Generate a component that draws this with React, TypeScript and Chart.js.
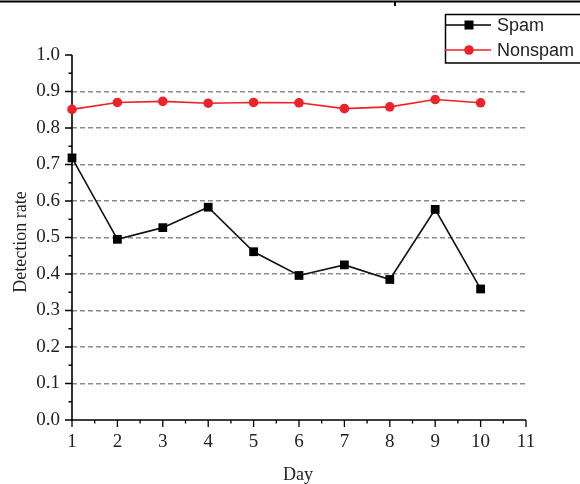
import React, { useEffect, useRef } from "react";
import { Chart, registerables } from "chart.js";

Chart.register(...registerables);

const days = [1, 2, 3, 4, 5, 6, 7, 8, 9, 10];
const spamRate = [0.718, 0.495, 0.527, 0.583, 0.461, 0.396, 0.425, 0.385, 0.577, 0.359];
const nonspamRate = [0.851, 0.87, 0.873, 0.868, 0.87, 0.869, 0.853, 0.858, 0.878, 0.869];
const xTickValues = [1, 2, 3, 4, 5, 6, 7, 8, 9, 10, 11];
const yTickValues = [0, 0.1, 0.2, 0.3, 0.4, 0.5, 0.6, 0.7, 0.8, 0.9, 1.0];
const seriesNames = ["Spam", "Nonspam"];
const xTitle = "Day";
const yTitle = "Detection rate";

const SERIF = "'Liberation Serif', 'Times New Roman', serif";
const SANS = "'Liberation Sans', Arial, sans-serif";
const RED = "#ee2229";

const decorPlugin = {
  id: "decor",
  beforeDatasetsDraw(chart: any) {
    const { ctx, scales } = chart;
    const xs = scales.x;
    const ys = scales.y;
    const x0 = xs.getPixelForValue(1);
    const x1 = xs.getPixelForValue(11);
    const y0 = ys.getPixelForValue(0);
    const y1 = ys.getPixelForValue(1);
    ctx.save();
    ctx.strokeStyle = "#000";
    ctx.lineWidth = 1.6;
    ctx.beginPath();
    ctx.moveTo(x0, y1);
    ctx.lineTo(x0, y0);
    ctx.lineTo(x1, y0);
    ctx.stroke();
    ctx.lineWidth = 1.3;
    ctx.beginPath();
    for (let i = 0; i <= 20; i++) {
      const v = i * 0.05;
      const p = ys.getPixelForValue(v);
      const len = i % 2 === 0 ? 7 : 3.5;
      ctx.moveTo(x0, p);
      ctx.lineTo(x0 - len, p);
    }
    for (let i = 0; i <= 20; i++) {
      const v = 1 + i * 0.5;
      const p = xs.getPixelForValue(v);
      const len = i % 2 === 0 ? 7 : 3.5;
      ctx.moveTo(p, y0);
      ctx.lineTo(p, y0 + len);
    }
    ctx.stroke();
    ctx.restore();
  },
  afterDraw(chart: any) {
    const { ctx } = chart;
    ctx.save();
    // top rule
    ctx.strokeStyle = "#000";
    ctx.lineWidth = 2;
    ctx.beginPath();
    ctx.moveTo(0, 1.5);
    ctx.lineTo(580, 1.5);
    ctx.moveTo(395, 1.5);
    ctx.lineTo(395, 6);
    ctx.stroke();

    // axis titles
    ctx.fillStyle = "#222";
    ctx.font = `18px ${SERIF}`;
    ctx.textAlign = "center";
    ctx.textBaseline = "alphabetic";
    ctx.fillText(xTitle, 298, 480);
    ctx.save();
    ctx.translate(26, 242);
    ctx.rotate(-Math.PI / 2);
    ctx.fillText(yTitle, 0, 0);
    ctx.restore();

    // legend
    ctx.strokeStyle = "#000";
    ctx.lineWidth = 1.5;
    ctx.strokeRect(445.5, 14.5, 150, 48.5);
    const rows = [
      { name: seriesNames[0], color: "#000", y: 25, shape: "rect" },
      { name: seriesNames[1], color: RED, y: 50, shape: "circle" },
    ];
    ctx.font = `18px ${SANS}`;
    ctx.textAlign = "left";
    ctx.textBaseline = "middle";
    for (const r of rows) {
      ctx.strokeStyle = r.color;
      ctx.fillStyle = r.color;
      ctx.lineWidth = 1.5;
      ctx.beginPath();
      ctx.moveTo(445, r.y);
      ctx.lineTo(491, r.y);
      ctx.stroke();
      if (r.shape === "rect") {
        ctx.fillRect(469 - 4.5, r.y - 4.5, 9, 9);
      } else {
        ctx.beginPath();
        ctx.arc(469, r.y, 4.8, 0, Math.PI * 2);
        ctx.fill();
      }
      ctx.fillStyle = "#222";
      ctx.fillText(r.name, 497, r.y + 1);
    }
    ctx.restore();
  },
};

export default function App() {
  const ref = useRef<HTMLCanvasElement | null>(null);
  useEffect(() => {
    if (!ref.current) return;
    const chart = new Chart(ref.current, {
      type: "line",
      data: {
        datasets: [
          {
            label: seriesNames[0],
            data: days.map((d, i) => ({ x: d, y: spamRate[i] })),
            borderColor: "#111",
            backgroundColor: "#000",
            borderWidth: 1.6,
            pointStyle: "rect",
            pointRadius: 6.2,
            pointBorderWidth: 0,
            clip: false,
          },
          {
            label: seriesNames[1],
            data: days.map((d, i) => ({ x: d, y: nonspamRate[i] })),
            borderColor: RED,
            backgroundColor: RED,
            borderWidth: 1.6,
            pointStyle: "circle",
            pointRadius: 4.8,
            pointBorderWidth: 0,
            clip: false,
          },
        ],
      },
      options: {
        animation: false,
        responsive: false,
        devicePixelRatio: 1,
        layout: { padding: { left: 0, right: 54, top: 55, bottom: 0 } },
        plugins: { legend: { display: false }, tooltip: { enabled: false } },
        scales: {
          x: {
            type: "linear",
            min: 1,
            max: 11,
            afterBuildTicks: (s: any) => {
              s.ticks = xTickValues.map((v) => ({ value: v }));
            },
            afterFit: (s: any) => {
              s.height = 64;
            },
            grid: { display: false, drawTicks: false },
            border: { display: false },
            ticks: {
              padding: 11,
              color: "#222",
              font: { family: SERIF, size: 19 },
              maxRotation: 0,
              autoSkip: false,
              callback: (v: any) => String(v),
            },
          },
          y: {
            type: "linear",
            min: 0,
            max: 1,
            afterBuildTicks: (s: any) => {
              s.ticks = yTickValues.map((v) => ({ value: v }));
            },
            afterFit: (s: any) => {
              s.width = 72;
            },
            grid: {
              drawTicks: false,
              lineWidth: 1.5,
              color: (c: any) =>
                c.tick && c.tick.value > 0.001 && c.tick.value < 0.999 ? "#8c8c8c" : "rgba(0,0,0,0)",
            },
            border: { display: false, dash: [5, 3] },
            ticks: {
              padding: 12,
              color: "#222",
              font: { family: SERIF, size: 19 },
              autoSkip: false,
              callback: (v: any) => Number(v).toFixed(1),
            },
          },
        },
      },
      plugins: [decorPlugin],
    });
    return () => chart.destroy();
  }, []);
  return (
    <div style={{ position: "fixed", left: 0, top: 0, width: 580, height: 484, background: "#fff" }}>
      <canvas ref={ref} width={580} height={484} style={{ display: "block" }} />
    </div>
  );
}
